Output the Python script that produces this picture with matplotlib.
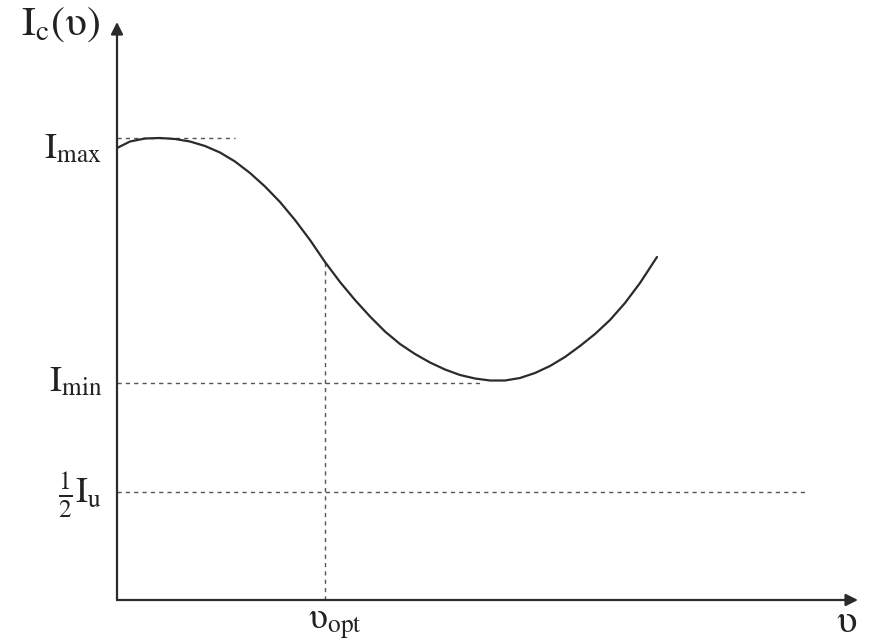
import numpy as np
import matplotlib.pyplot as plt

plt.rcParams['mathtext.fontset'] = 'stix'
plt.rcParams['font.family'] = 'Liberation Serif'

# curve I_c(v)
v = [0.00, 0.13, 0.28, 0.43, 0.58, 0.73, 0.88, 1.03, 1.18, 1.33, 1.48,
     1.63, 1.78, 1.93, 2.08, 2.23, 2.38, 2.53, 2.68, 2.83, 2.98, 3.13,
     3.28, 3.43, 3.58, 3.73, 3.88, 4.03, 4.18, 4.33, 4.48, 4.63, 4.78,
     4.93, 5.08, 5.23, 5.40]
ic = [4.52, 4.585, 4.615, 4.62, 4.61, 4.585, 4.54, 4.475, 4.385, 4.27,
      4.135, 3.98, 3.80, 3.60, 3.38, 3.18, 3.00, 2.835, 2.685, 2.56,
      2.46, 2.375, 2.305, 2.25, 2.215, 2.195, 2.195, 2.22, 2.27, 2.34,
      2.43, 2.54, 2.66, 2.80, 2.97, 3.17, 3.43]

# levels and guide line extents
i_max = 4.62
i_min = 2.17
half_iu = 1.08
v_opt = 2.08
i_at_opt = 3.38
x_end_max = 1.18
x_end_min = 3.63
x_end_half = 6.88
x_axis_end = 7.41
y_axis_end = 5.78

fig = plt.figure(figsize=(8.73, 6.43), dpi=100)
ax = fig.add_axes([0, 0, 1, 1])
ax.set_xlim(-1.17, 7.56)
ax.set_ylim(-0.43, 6.00)
ax.axis('off')

ink = '#2b2b2b'

# axes with arrows
ax.annotate('', xy=(x_axis_end, 0), xytext=(0, 0),
            arrowprops=dict(arrowstyle='-|>', color=ink, lw=1.6,
                            mutation_scale=18, shrinkA=0, shrinkB=0))
ax.annotate('', xy=(0, y_axis_end), xytext=(0, 0),
            arrowprops=dict(arrowstyle='-|>', color=ink, lw=1.6,
                            mutation_scale=18, shrinkA=0, shrinkB=0))

# dashed guide lines
dash = dict(color='#555555', lw=1.0, ls=(0, (3, 3)))
ax.plot([0, x_end_max], [i_max, i_max], **dash)
ax.plot([0, x_end_min], [i_min, i_min], **dash)
ax.plot([0, x_end_half], [half_iu, half_iu], **dash)
ax.plot([v_opt, v_opt], [0, i_at_opt], **dash)

# the curve
ax.plot(v, ic, color=ink, lw=1.6, solid_capstyle='round', solid_joinstyle='round')

# labels
txt = '#222222'
ax.text(-0.17, 5.75, r'$\mathrm{I}_{\mathrm{c}}(\mathrm{\upsilon})$', fontsize=30,
        ha='right', va='center', color=txt)
ax.text(-0.15, i_max - 0.12, r'$\mathrm{I}_{\mathrm{max}}$', fontsize=26,
        ha='right', va='center', color=txt)
ax.text(-0.15, i_min, r'$\mathrm{I}_{\mathrm{min}}$', fontsize=26,
        ha='right', va='center', color=txt)
ax.text(-0.15, half_iu - 0.03, r'$\frac{1}{2}\mathrm{I}_{\mathrm{u}}$', fontsize=26,
        ha='right', va='center', color=txt)
ax.text(v_opt + 0.1, -0.25, r'$\mathrm{\upsilon}_{\mathrm{opt}}$', fontsize=26,
        ha='center', va='center', color=txt)
ax.text(x_axis_end - 0.11, -0.22, r'$\mathrm{\upsilon}$', fontsize=28,
        ha='center', va='center', color=txt)

fig.savefig('out.png', dpi=100)
